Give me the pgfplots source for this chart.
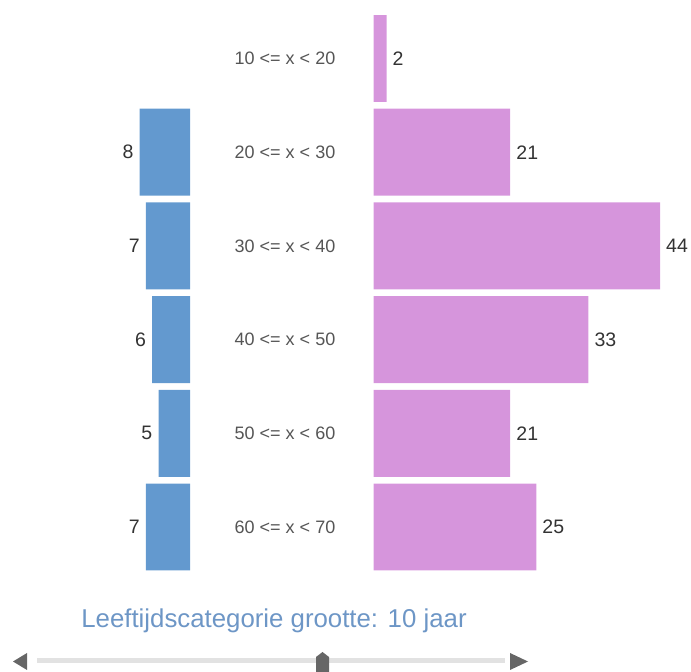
\documentclass[border=0pt]{standalone}
\usepackage{fontspec}
\setmainfont{Liberation Sans}
\usepackage{pgfplots}
\pgfplotsset{compat=1.18}
\definecolor{barblue}{RGB}{99,153,207}
\definecolor{barpink}{RGB}{214,149,220}
\definecolor{captionblue}{RGB}{109,150,198}
\definecolor{lblgray}{RGB}{85,85,85}
\definecolor{valgray}{RGB}{51,51,51}
\definecolor{tracklight}{RGB}{226,226,226}
\definecolor{arrowgray}{RGB}{102,102,102}
\begin{document}
\begin{tikzpicture}[x=1bp,y=1bp]
\path[use as bounding box] (0,0) rectangle (691,672);
% right (pink) axis with category labels
\begin{axis}[
  at={(373.5bp,98.15bp)}, anchor=south west,
  scale only axis, width=286.5bp, height=562.2bp,
  xmin=0, xmax=44, ymin=0.5, ymax=6.5, y dir=reverse,
  xbar, bar width=0.928,
  axis line style={draw=none}, major tick length=0,
  xtick=\empty, ytick={1,2,3,4,5,6},
  yticklabels={{10 <= x < 20},{20 <= x < 30},{30 <= x < 40},{40 <= x < 50},{50 <= x < 60},{60 <= x < 70}},
  yticklabel style={anchor=center, inner sep=0pt, xshift=-88.5bp, font=\fontsize{18bp}{20bp}\selectfont, text=lblgray},
  /pgf/number format/assume math mode=true,
  clip=false,
  nodes near coords,
  every node near coord/.append style={anchor=west, inner sep=0pt, xshift=6bp, font=\fontsize{19.5bp}{21bp}\selectfont, text=valgray},
]
\addplot[fill=barpink, draw=none] coordinates {(2,1) (21,2) (44,3) (33,4) (21,5) (25,6)};
\end{axis}
% left (blue) axis
\begin{axis}[
  at={(190bp,98.15bp)}, anchor=south east,
  scale only axis, width=50.4bp, height=562.2bp,
  xmin=0, xmax=8, ymin=0.5, ymax=6.5, y dir=reverse, x dir=reverse,
  xbar, bar width=0.928,
  axis line style={draw=none}, major tick length=0,
  xtick=\empty, ytick=\empty,
  /pgf/number format/assume math mode=true,
  clip=false,
  nodes near coords,
  every node near coord/.append style={anchor=east, inner sep=0pt, xshift=-6bp, font=\fontsize{19.5bp}{21bp}\selectfont, text=valgray},
]
\addplot[fill=barblue, draw=none] coordinates {(8,2) (7,3) (6,4) (5,5) (7,6)};
\end{axis}
% caption
\node[anchor=base, text=captionblue, font=\fontsize{25.8bp}{28bp}\selectfont, inner sep=0pt] at (274,44) {Leeftijdscategorie grootte: 10 jaar};
% slider
\fill[tracklight] (37,8.7) rectangle (505,13.7);
\fill[arrowgray] (13,10.5) -- (27,19) -- (27,2) -- cycle;
\fill[arrowgray] (528,10.5) -- (510,19) -- (510,2) -- cycle;
\fill[arrowgray] (316,0) -- (316,15) -- (322.5,20) -- (329,15) -- (329,0) -- cycle;
\end{tikzpicture}
\end{document}
